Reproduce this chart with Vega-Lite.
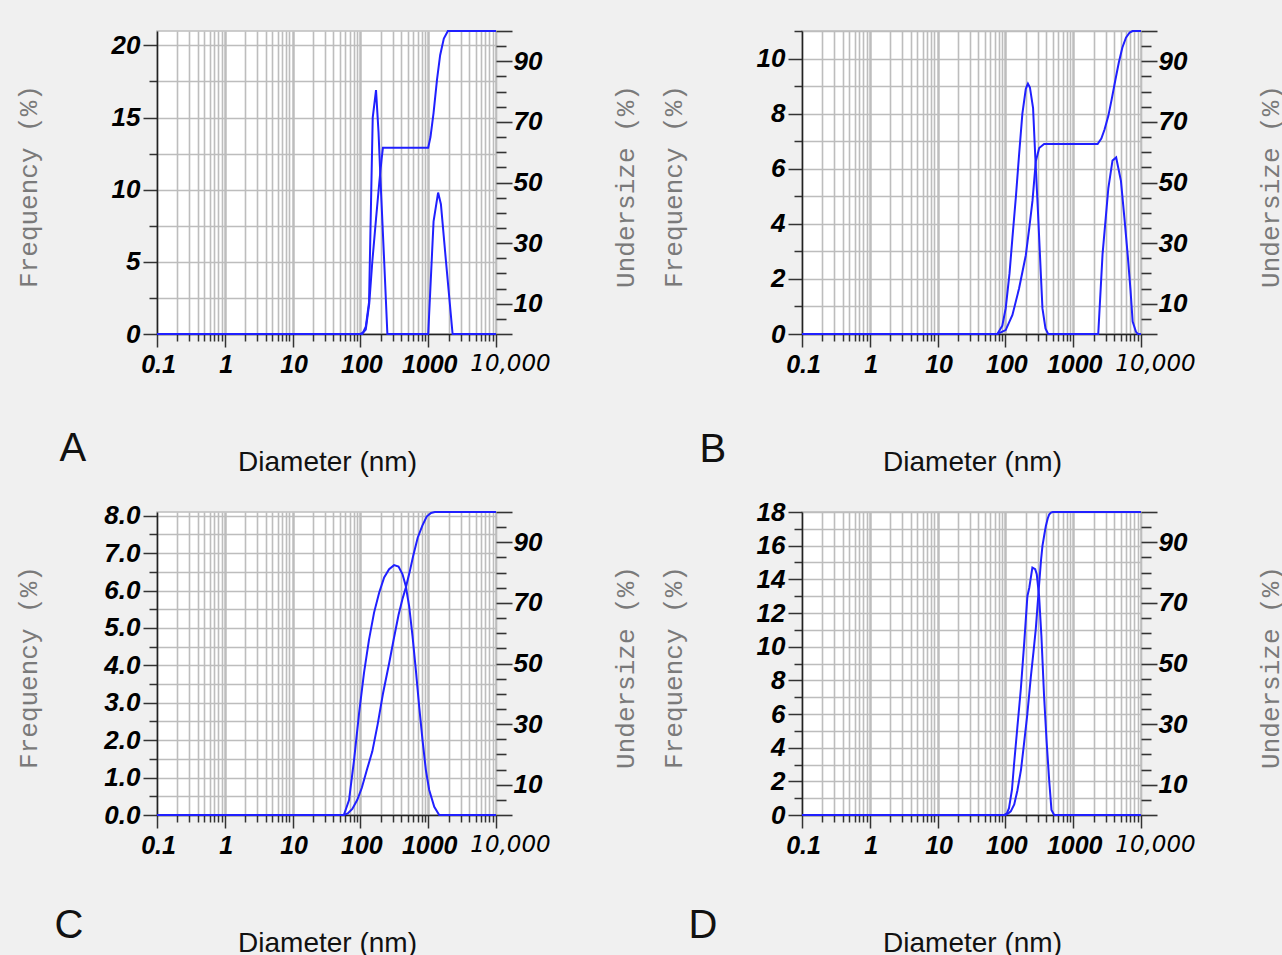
{
  "$schema": "https://vega.github.io/schema/vega-lite/v6.json",
  "background": "#f0f0f0",
  "padding": {"left": 14, "top": 17, "right": 0, "bottom": 10},
  "columns": 2,
  "spacing": {"row": 178, "column": 306},
  "bounds": "flush",
  "data": {"values": [
    {"panel":"A","series":"Frequency","diameter":0.1,"value":0},
    {"panel":"A","series":"Frequency","diameter":100,"value":0},
    {"panel":"A","series":"Frequency","diameter":107,"value":0},
    {"panel":"A","series":"Frequency","diameter":120,"value":0.5},
    {"panel":"A","series":"Frequency","diameter":134,"value":2.2},
    {"panel":"A","series":"Frequency","diameter":152,"value":15.0},
    {"panel":"A","series":"Frequency","diameter":170,"value":16.9},
    {"panel":"A","series":"Frequency","diameter":185,"value":14.0},
    {"panel":"A","series":"Frequency","diameter":200,"value":10.2},
    {"panel":"A","series":"Frequency","diameter":225,"value":4.9},
    {"panel":"A","series":"Frequency","diameter":250,"value":0},
    {"panel":"A","series":"Frequency","diameter":1000,"value":0},
    {"panel":"A","series":"Frequency","diameter":1200,"value":7.8},
    {"panel":"A","series":"Frequency","diameter":1400,"value":9.8},
    {"panel":"A","series":"Frequency","diameter":1540,"value":9.0},
    {"panel":"A","series":"Frequency","diameter":1800,"value":5.4},
    {"panel":"A","series":"Frequency","diameter":2290,"value":0},
    {"panel":"A","series":"Frequency","diameter":10000,"value":0},
    {"panel":"A","series":"Undersize","diameter":0.1,"value":0},
    {"panel":"A","series":"Undersize","diameter":100,"value":0},
    {"panel":"A","series":"Undersize","diameter":110,"value":0.5},
    {"panel":"A","series":"Undersize","diameter":120,"value":1.5},
    {"panel":"A","series":"Undersize","diameter":135,"value":10},
    {"panel":"A","series":"Undersize","diameter":150,"value":24},
    {"panel":"A","series":"Undersize","diameter":170,"value":38},
    {"panel":"A","series":"Undersize","diameter":190,"value":50},
    {"panel":"A","series":"Undersize","diameter":205,"value":57.5},
    {"panel":"A","series":"Undersize","diameter":215,"value":61.5},
    {"panel":"A","series":"Undersize","diameter":1000,"value":61.5},
    {"panel":"A","series":"Undersize","diameter":1080,"value":65},
    {"panel":"A","series":"Undersize","diameter":1200,"value":73},
    {"panel":"A","series":"Undersize","diameter":1350,"value":84},
    {"panel":"A","series":"Undersize","diameter":1500,"value":92},
    {"panel":"A","series":"Undersize","diameter":1700,"value":97.5},
    {"panel":"A","series":"Undersize","diameter":1950,"value":100},
    {"panel":"A","series":"Undersize","diameter":10000,"value":100},
    {"panel":"B","series":"Frequency","diameter":0.1,"value":0},
    {"panel":"B","series":"Frequency","diameter":76,"value":0},
    {"panel":"B","series":"Frequency","diameter":90,"value":0.3},
    {"panel":"B","series":"Frequency","diameter":101,"value":0.93},
    {"panel":"B","series":"Frequency","diameter":115,"value":2.2},
    {"panel":"B","series":"Frequency","diameter":127,"value":3.5},
    {"panel":"B","series":"Frequency","diameter":143,"value":5.0},
    {"panel":"B","series":"Frequency","diameter":159,"value":6.5},
    {"panel":"B","series":"Frequency","diameter":178,"value":8.0},
    {"panel":"B","series":"Frequency","diameter":200,"value":8.9},
    {"panel":"B","series":"Frequency","diameter":215,"value":9.09},
    {"panel":"B","series":"Frequency","diameter":230,"value":8.95},
    {"panel":"B","series":"Frequency","diameter":256,"value":8.2},
    {"panel":"B","series":"Frequency","diameter":275,"value":6.5},
    {"panel":"B","series":"Frequency","diameter":300,"value":4.6},
    {"panel":"B","series":"Frequency","diameter":330,"value":2.4},
    {"panel":"B","series":"Frequency","diameter":352,"value":0.93},
    {"panel":"B","series":"Frequency","diameter":390,"value":0.2},
    {"panel":"B","series":"Frequency","diameter":427,"value":0},
    {"panel":"B","series":"Frequency","diameter":2340,"value":0},
    {"panel":"B","series":"Frequency","diameter":2710,"value":2.9},
    {"panel":"B","series":"Frequency","diameter":3300,"value":5.3},
    {"panel":"B","series":"Frequency","diameter":3800,"value":6.3},
    {"panel":"B","series":"Frequency","diameter":4300,"value":6.41},
    {"panel":"B","series":"Frequency","diameter":5060,"value":5.56},
    {"panel":"B","series":"Frequency","diameter":5700,"value":4.2},
    {"panel":"B","series":"Frequency","diameter":6360,"value":2.88},
    {"panel":"B","series":"Frequency","diameter":7000,"value":1.6},
    {"panel":"B","series":"Frequency","diameter":7530,"value":0.45},
    {"panel":"B","series":"Frequency","diameter":8430,"value":0.08},
    {"panel":"B","series":"Frequency","diameter":9000,"value":0},
    {"panel":"B","series":"Frequency","diameter":10000,"value":0},
    {"panel":"B","series":"Undersize","diameter":0.1,"value":0},
    {"panel":"B","series":"Undersize","diameter":76,"value":0},
    {"panel":"B","series":"Undersize","diameter":101,"value":1.3},
    {"panel":"B","series":"Undersize","diameter":127,"value":6.3},
    {"panel":"B","series":"Undersize","diameter":159,"value":15},
    {"panel":"B","series":"Undersize","diameter":200,"value":26},
    {"panel":"B","series":"Undersize","diameter":225,"value":35},
    {"panel":"B","series":"Undersize","diameter":251,"value":44},
    {"panel":"B","series":"Undersize","diameter":281,"value":57},
    {"panel":"B","series":"Undersize","diameter":315,"value":61.4},
    {"panel":"B","series":"Undersize","diameter":372,"value":62.7},
    {"panel":"B","series":"Undersize","diameter":2290,"value":62.7},
    {"panel":"B","series":"Undersize","diameter":2600,"value":64.5},
    {"panel":"B","series":"Undersize","diameter":2900,"value":67.5},
    {"panel":"B","series":"Undersize","diameter":3300,"value":72},
    {"panel":"B","series":"Undersize","diameter":3700,"value":77.5},
    {"panel":"B","series":"Undersize","diameter":4200,"value":84},
    {"panel":"B","series":"Undersize","diameter":4700,"value":89.5},
    {"panel":"B","series":"Undersize","diameter":5300,"value":94.5},
    {"panel":"B","series":"Undersize","diameter":6000,"value":97.8},
    {"panel":"B","series":"Undersize","diameter":6800,"value":99.5},
    {"panel":"B","series":"Undersize","diameter":7500,"value":100},
    {"panel":"B","series":"Undersize","diameter":10000,"value":100},
    {"panel":"C","series":"Frequency","diameter":0.1,"value":0},
    {"panel":"C","series":"Frequency","diameter":57,"value":0},
    {"panel":"C","series":"Frequency","diameter":68,"value":0.4},
    {"panel":"C","series":"Frequency","diameter":80.6,"value":1.47},
    {"panel":"C","series":"Frequency","diameter":95.6,"value":2.72},
    {"panel":"C","series":"Frequency","diameter":113,"value":3.8},
    {"panel":"C","series":"Frequency","diameter":134,"value":4.69},
    {"panel":"C","series":"Frequency","diameter":159,"value":5.41},
    {"panel":"C","series":"Frequency","diameter":189,"value":5.94},
    {"panel":"C","series":"Frequency","diameter":224,"value":6.35},
    {"panel":"C","series":"Frequency","diameter":265,"value":6.57},
    {"panel":"C","series":"Frequency","diameter":314,"value":6.68},
    {"panel":"C","series":"Frequency","diameter":365,"value":6.64},
    {"panel":"C","series":"Frequency","diameter":417,"value":6.44},
    {"panel":"C","series":"Frequency","diameter":467,"value":6.12},
    {"panel":"C","series":"Frequency","diameter":524,"value":5.58},
    {"panel":"C","series":"Frequency","diameter":587,"value":4.78},
    {"panel":"C","series":"Frequency","diameter":657,"value":3.88},
    {"panel":"C","series":"Frequency","diameter":737,"value":2.89},
    {"panel":"C","series":"Frequency","diameter":825,"value":2.0},
    {"panel":"C","series":"Frequency","diameter":924,"value":1.2},
    {"panel":"C","series":"Frequency","diameter":1035,"value":0.67},
    {"panel":"C","series":"Frequency","diameter":1228,"value":0.22},
    {"panel":"C","series":"Frequency","diameter":1453,"value":0},
    {"panel":"C","series":"Frequency","diameter":10000,"value":0},
    {"panel":"C","series":"Undersize","diameter":0.1,"value":0},
    {"panel":"C","series":"Undersize","diameter":57,"value":0},
    {"panel":"C","series":"Undersize","diameter":65,"value":0.5},
    {"panel":"C","series":"Undersize","diameter":76,"value":2},
    {"panel":"C","series":"Undersize","diameter":90,"value":5},
    {"panel":"C","series":"Undersize","diameter":105,"value":9},
    {"panel":"C","series":"Undersize","diameter":125,"value":15},
    {"panel":"C","series":"Undersize","diameter":150,"value":21},
    {"panel":"C","series":"Undersize","diameter":180,"value":30},
    {"panel":"C","series":"Undersize","diameter":215,"value":40},
    {"panel":"C","series":"Undersize","diameter":265,"value":50},
    {"panel":"C","series":"Undersize","diameter":310,"value":58},
    {"panel":"C","series":"Undersize","diameter":365,"value":66},
    {"panel":"C","series":"Undersize","diameter":420,"value":71.5},
    {"panel":"C","series":"Undersize","diameter":467,"value":75},
    {"panel":"C","series":"Undersize","diameter":530,"value":80},
    {"panel":"C","series":"Undersize","diameter":600,"value":85.5},
    {"panel":"C","series":"Undersize","diameter":700,"value":91.5},
    {"panel":"C","series":"Undersize","diameter":820,"value":95.5},
    {"panel":"C","series":"Undersize","diameter":950,"value":98.5},
    {"panel":"C","series":"Undersize","diameter":1100,"value":99.7},
    {"panel":"C","series":"Undersize","diameter":1250,"value":100},
    {"panel":"C","series":"Undersize","diameter":10000,"value":100},
    {"panel":"D","series":"Frequency","diameter":0.1,"value":0},
    {"panel":"D","series":"Frequency","diameter":95,"value":0},
    {"panel":"D","series":"Frequency","diameter":105,"value":0.1},
    {"panel":"D","series":"Frequency","diameter":113,"value":0.4},
    {"panel":"D","series":"Frequency","diameter":125,"value":1.5},
    {"panel":"D","series":"Frequency","diameter":134,"value":3.0},
    {"panel":"D","series":"Frequency","diameter":150,"value":5.2},
    {"panel":"D","series":"Frequency","diameter":169,"value":7.5},
    {"panel":"D","series":"Frequency","diameter":190,"value":10.3},
    {"panel":"D","series":"Frequency","diameter":211,"value":13.0},
    {"panel":"D","series":"Frequency","diameter":225,"value":13.5},
    {"panel":"D","series":"Frequency","diameter":250,"value":14.7},
    {"panel":"D","series":"Frequency","diameter":275,"value":14.6},
    {"panel":"D","series":"Frequency","diameter":290,"value":14.3},
    {"panel":"D","series":"Frequency","diameter":314,"value":13.0},
    {"panel":"D","series":"Frequency","diameter":340,"value":10.6},
    {"panel":"D","series":"Frequency","diameter":372,"value":7.05},
    {"panel":"D","series":"Frequency","diameter":405,"value":4.4},
    {"panel":"D","series":"Frequency","diameter":442,"value":2.08},
    {"panel":"D","series":"Frequency","diameter":478,"value":0.3},
    {"panel":"D","series":"Frequency","diameter":524,"value":0},
    {"panel":"D","series":"Frequency","diameter":10000,"value":0},
    {"panel":"D","series":"Undersize","diameter":0.1,"value":0},
    {"panel":"D","series":"Undersize","diameter":100,"value":0},
    {"panel":"D","series":"Undersize","diameter":110,"value":0.5},
    {"panel":"D","series":"Undersize","diameter":120,"value":1.2},
    {"panel":"D","series":"Undersize","diameter":135,"value":3.5},
    {"panel":"D","series":"Undersize","diameter":150,"value":8},
    {"panel":"D","series":"Undersize","diameter":170,"value":15},
    {"panel":"D","series":"Undersize","diameter":188,"value":23.5},
    {"panel":"D","series":"Undersize","diameter":210,"value":33},
    {"panel":"D","series":"Undersize","diameter":237,"value":45.5},
    {"panel":"D","series":"Undersize","diameter":260,"value":54},
    {"panel":"D","series":"Undersize","diameter":281,"value":61.5},
    {"panel":"D","series":"Undersize","diameter":300,"value":70},
    {"panel":"D","series":"Undersize","diameter":314,"value":76},
    {"panel":"D","series":"Undersize","diameter":335,"value":84},
    {"panel":"D","series":"Undersize","diameter":352,"value":88.8},
    {"panel":"D","series":"Undersize","diameter":375,"value":92.5},
    {"panel":"D","series":"Undersize","diameter":395,"value":95.4},
    {"panel":"D","series":"Undersize","diameter":420,"value":97.8},
    {"panel":"D","series":"Undersize","diameter":442,"value":99.2},
    {"panel":"D","series":"Undersize","diameter":470,"value":99.8},
    {"panel":"D","series":"Undersize","diameter":500,"value":100},
    {"panel":"D","series":"Undersize","diameter":10000,"value":100}
  ]},
  "concat": [
    {
      "width": 339, "height": 303,
      "resolve": {"scale": {"y": "independent"}, "axis": {"x": "independent"}},
      "layer": [
        {
          "transform": [{"filter": "datum.panel === 'A' && datum.series === 'Frequency'"}],
          "mark": {"type": "line", "color": "#2020ff", "strokeWidth": 2},
          "encoding": {
            "x": {"field": "diameter", "type": "quantitative", "scale": {"type": "log", "domain": [0.1, 10000], "nice": false},
              "axis": {"orient": "bottom", "values": [0.1,0.2,0.3,0.4,0.5,0.6,0.7,0.8,0.9,1,2,3,4,5,6,7,8,9,10,20,30,40,50,60,70,80,90,100,200,300,400,500,600,700,800,900,1000,2000,3000,4000,5000,6000,7000,8000,9000,10000],
                "labelExpr": "datum.value === 10000 ? '10,000' : datum.value === 0.1 ? '0.1' : indexof([1,10,100,1000], datum.value) >= 0 ? format(datum.value, 'd') : ''",
                "tickSize": {"condition": {"test": "indexof([0.1,1,10,100,1000,10000], datum.value) >= 0", "value": 13}, "value": 7},
                "gridWidth": {"condition": {"test": "indexof([1,10,100,1000], datum.value) >= 0", "value": 2.5}, "value": 1.6},
                "labelFont": {"condition": {"test": "datum.value === 10000", "value": "DejaVu Sans"}, "value": "Liberation Sans"},
                "labelFontWeight": {"condition": {"test": "datum.value === 10000", "value": "normal"}, "value": "bold"},
                "labelFontSize": {"condition": {"test": "datum.value === 10000", "value": 23}, "value": 25},
                "labelOffset": {"condition": {"test": "datum.value === 10000", "value": 14}, "value": 1},
                "labelPadding": 5, "tickWidth": 1.5,
                "title": "Diameter (nm)", "titleFont": "Liberation Sans", "titleFontSize": 28, "titleColor": "#111111", "titleAngle": 0, "titleX": 170, "titleY": 136, "titleAlign": "center", "titleBaseline": "alphabetic"}},
            "y": {"field": "value", "type": "quantitative", "scale": {"domain": [0, 21], "nice": false, "zero": false},
              "axis": {"orient": "left", "values": [0,2.5,5,7.5,10,12.5,15,17.5,20],
                "labelExpr": "datum.value % 5 === 0 ? format(datum.value, 'd') : ''",
                "tickSize": {"condition": {"test": "datum.value % 5 === 0", "value": 14}, "value": 8},
                "labelPadding": 3, "tickWidth": 1.5,
                "title": "Frequency (%)", "titleAngle": 270, "titleX": -121, "titleY": 155, "titleAlign": "center", "titleBaseline": "alphabetic"}}
          }
        },
        {
          "transform": [{"filter": "datum.panel === 'A' && datum.series === 'Undersize'"}],
          "mark": {"type": "line", "color": "#2020ff", "strokeWidth": 2},
          "encoding": {
            "x": {"field": "diameter", "type": "quantitative", "scale": {"type": "log", "domain": [0.1, 10000], "nice": false},
              "axis": {"orient": "bottom", "domain": false, "ticks": false, "labels": false, "grid": false, "title": "A", "titleFont": "Liberation Sans", "titleFontSize": 40, "titleColor": "#111111", "titleAngle": 0, "titleX": -98, "titleY": 126, "titleAlign": "left", "titleBaseline": "alphabetic"}},
            "y": {"field": "value", "type": "quantitative", "scale": {"domain": [0, 100], "nice": false},
              "axis": {"orient": "right", "values": [0,5,10,15,20,25,30,35,40,45,50,55,60,65,70,75,80,85,90,95,100],
                "labelExpr": "indexof([10,30,50,70,90], datum.value) >= 0 ? format(datum.value, 'd') : ''",
                "tickSize": {"condition": {"test": "indexof([0,10,30,50,70,90,100], datum.value) >= 0", "value": 16}, "value": 10},
                "labelPadding": 1, "tickWidth": 1.6, "grid": false, "domain": false,
                "title": "Undersize (%)", "titleAngle": 270, "titleX": 137, "titleY": 155, "titleAlign": "center", "titleBaseline": "alphabetic"}}
          }
        }
      ]
    },
    {
      "width": 339, "height": 303,
      "resolve": {"scale": {"y": "independent"}, "axis": {"x": "independent"}},
      "layer": [
        {
          "transform": [{"filter": "datum.panel === 'B' && datum.series === 'Frequency'"}],
          "mark": {"type": "line", "color": "#2020ff", "strokeWidth": 2},
          "encoding": {
            "x": {"field": "diameter", "type": "quantitative", "scale": {"type": "log", "domain": [0.1, 10000], "nice": false},
              "axis": {"orient": "bottom", "values": [0.1,0.2,0.3,0.4,0.5,0.6,0.7,0.8,0.9,1,2,3,4,5,6,7,8,9,10,20,30,40,50,60,70,80,90,100,200,300,400,500,600,700,800,900,1000,2000,3000,4000,5000,6000,7000,8000,9000,10000],
                "labelExpr": "datum.value === 10000 ? '10,000' : datum.value === 0.1 ? '0.1' : indexof([1,10,100,1000], datum.value) >= 0 ? format(datum.value, 'd') : ''",
                "tickSize": {"condition": {"test": "indexof([0.1,1,10,100,1000,10000], datum.value) >= 0", "value": 13}, "value": 7},
                "gridWidth": {"condition": {"test": "indexof([1,10,100,1000], datum.value) >= 0", "value": 2.5}, "value": 1.6},
                "labelFont": {"condition": {"test": "datum.value === 10000", "value": "DejaVu Sans"}, "value": "Liberation Sans"},
                "labelFontWeight": {"condition": {"test": "datum.value === 10000", "value": "normal"}, "value": "bold"},
                "labelFontSize": {"condition": {"test": "datum.value === 10000", "value": 23}, "value": 25},
                "labelOffset": {"condition": {"test": "datum.value === 10000", "value": 14}, "value": 1},
                "labelPadding": 5, "tickWidth": 1.5,
                "title": "Diameter (nm)", "titleFont": "Liberation Sans", "titleFontSize": 28, "titleColor": "#111111", "titleAngle": 0, "titleX": 170, "titleY": 136, "titleAlign": "center", "titleBaseline": "alphabetic"}},
            "y": {"field": "value", "type": "quantitative", "scale": {"domain": [0, 11], "nice": false, "zero": false},
              "axis": {"orient": "left", "values": [0,1,2,3,4,5,6,7,8,9,10,11],
                "labelExpr": "datum.value % 2 === 0 ? format(datum.value, 'd') : ''",
                "tickSize": {"condition": {"test": "datum.value % 2 === 0", "value": 14}, "value": 8},
                "labelPadding": 3, "tickWidth": 1.5,
                "title": "Frequency (%)", "titleAngle": 270, "titleX": -121, "titleY": 155, "titleAlign": "center", "titleBaseline": "alphabetic"}}
          }
        },
        {
          "transform": [{"filter": "datum.panel === 'B' && datum.series === 'Undersize'"}],
          "mark": {"type": "line", "color": "#2020ff", "strokeWidth": 2},
          "encoding": {
            "x": {"field": "diameter", "type": "quantitative", "scale": {"type": "log", "domain": [0.1, 10000], "nice": false},
              "axis": {"orient": "bottom", "domain": false, "ticks": false, "labels": false, "grid": false, "title": "B", "titleFont": "Liberation Sans", "titleFontSize": 40, "titleColor": "#111111", "titleAngle": 0, "titleX": -103, "titleY": 127, "titleAlign": "left", "titleBaseline": "alphabetic"}},
            "y": {"field": "value", "type": "quantitative", "scale": {"domain": [0, 100], "nice": false},
              "axis": {"orient": "right", "values": [0,5,10,15,20,25,30,35,40,45,50,55,60,65,70,75,80,85,90,95,100],
                "labelExpr": "indexof([10,30,50,70,90], datum.value) >= 0 ? format(datum.value, 'd') : ''",
                "tickSize": {"condition": {"test": "indexof([0,10,30,50,70,90,100], datum.value) >= 0", "value": 16}, "value": 10},
                "labelPadding": 1, "tickWidth": 1.6, "grid": false, "domain": false,
                "title": "Undersize (%)", "titleAngle": 270, "titleX": 137, "titleY": 155, "titleAlign": "center", "titleBaseline": "alphabetic"}}
          }
        }
      ]
    },
    {
      "width": 339, "height": 303,
      "resolve": {"scale": {"y": "independent"}, "axis": {"x": "independent"}},
      "layer": [
        {
          "transform": [{"filter": "datum.panel === 'C' && datum.series === 'Frequency'"}],
          "mark": {"type": "line", "color": "#2020ff", "strokeWidth": 2},
          "encoding": {
            "x": {"field": "diameter", "type": "quantitative", "scale": {"type": "log", "domain": [0.1, 10000], "nice": false},
              "axis": {"orient": "bottom", "values": [0.1,0.2,0.3,0.4,0.5,0.6,0.7,0.8,0.9,1,2,3,4,5,6,7,8,9,10,20,30,40,50,60,70,80,90,100,200,300,400,500,600,700,800,900,1000,2000,3000,4000,5000,6000,7000,8000,9000,10000],
                "labelExpr": "datum.value === 10000 ? '10,000' : datum.value === 0.1 ? '0.1' : indexof([1,10,100,1000], datum.value) >= 0 ? format(datum.value, 'd') : ''",
                "tickSize": {"condition": {"test": "indexof([0.1,1,10,100,1000,10000], datum.value) >= 0", "value": 13}, "value": 7},
                "gridWidth": {"condition": {"test": "indexof([1,10,100,1000], datum.value) >= 0", "value": 2.5}, "value": 1.6},
                "labelFont": {"condition": {"test": "datum.value === 10000", "value": "DejaVu Sans"}, "value": "Liberation Sans"},
                "labelFontWeight": {"condition": {"test": "datum.value === 10000", "value": "normal"}, "value": "bold"},
                "labelFontSize": {"condition": {"test": "datum.value === 10000", "value": 23}, "value": 25},
                "labelOffset": {"condition": {"test": "datum.value === 10000", "value": 14}, "value": 1},
                "labelPadding": 5, "tickWidth": 1.5,
                "title": "Diameter (nm)", "titleFont": "Liberation Sans", "titleFontSize": 28, "titleColor": "#111111", "titleAngle": 0, "titleX": 170, "titleY": 136, "titleAlign": "center", "titleBaseline": "alphabetic"}},
            "y": {"field": "value", "type": "quantitative", "scale": {"domain": [0, 8.1], "nice": false, "zero": false},
              "axis": {"orient": "left", "values": [0,0.5,1,1.5,2,2.5,3,3.5,4,4.5,5,5.5,6,6.5,7,7.5,8],
                "labelExpr": "datum.value % 1 === 0 ? format(datum.value, '.1f') : ''",
                "tickSize": {"condition": {"test": "datum.value % 1 === 0", "value": 14}, "value": 8},
                "labelPadding": 3, "tickWidth": 1.5,
                "title": "Frequency (%)", "titleAngle": 270, "titleX": -121, "titleY": 155, "titleAlign": "center", "titleBaseline": "alphabetic"}}
          }
        },
        {
          "transform": [{"filter": "datum.panel === 'C' && datum.series === 'Undersize'"}],
          "mark": {"type": "line", "color": "#2020ff", "strokeWidth": 2},
          "encoding": {
            "x": {"field": "diameter", "type": "quantitative", "scale": {"type": "log", "domain": [0.1, 10000], "nice": false},
              "axis": {"orient": "bottom", "domain": false, "ticks": false, "labels": false, "grid": false, "title": "C", "titleFont": "Liberation Sans", "titleFontSize": 40, "titleColor": "#111111", "titleAngle": 0, "titleX": -103, "titleY": 122, "titleAlign": "left", "titleBaseline": "alphabetic"}},
            "y": {"field": "value", "type": "quantitative", "scale": {"domain": [0, 100], "nice": false},
              "axis": {"orient": "right", "values": [0,5,10,15,20,25,30,35,40,45,50,55,60,65,70,75,80,85,90,95,100],
                "labelExpr": "indexof([10,30,50,70,90], datum.value) >= 0 ? format(datum.value, 'd') : ''",
                "tickSize": {"condition": {"test": "indexof([0,10,30,50,70,90,100], datum.value) >= 0", "value": 16}, "value": 10},
                "labelPadding": 1, "tickWidth": 1.6, "grid": false, "domain": false,
                "title": "Undersize (%)", "titleAngle": 270, "titleX": 137, "titleY": 155, "titleAlign": "center", "titleBaseline": "alphabetic"}}
          }
        }
      ]
    },
    {
      "width": 339, "height": 303,
      "resolve": {"scale": {"y": "independent"}, "axis": {"x": "independent"}},
      "layer": [
        {
          "transform": [{"filter": "datum.panel === 'D' && datum.series === 'Frequency'"}],
          "mark": {"type": "line", "color": "#2020ff", "strokeWidth": 2},
          "encoding": {
            "x": {"field": "diameter", "type": "quantitative", "scale": {"type": "log", "domain": [0.1, 10000], "nice": false},
              "axis": {"orient": "bottom", "values": [0.1,0.2,0.3,0.4,0.5,0.6,0.7,0.8,0.9,1,2,3,4,5,6,7,8,9,10,20,30,40,50,60,70,80,90,100,200,300,400,500,600,700,800,900,1000,2000,3000,4000,5000,6000,7000,8000,9000,10000],
                "labelExpr": "datum.value === 10000 ? '10,000' : datum.value === 0.1 ? '0.1' : indexof([1,10,100,1000], datum.value) >= 0 ? format(datum.value, 'd') : ''",
                "tickSize": {"condition": {"test": "indexof([0.1,1,10,100,1000,10000], datum.value) >= 0", "value": 13}, "value": 7},
                "gridWidth": {"condition": {"test": "indexof([1,10,100,1000], datum.value) >= 0", "value": 2.5}, "value": 1.6},
                "labelFont": {"condition": {"test": "datum.value === 10000", "value": "DejaVu Sans"}, "value": "Liberation Sans"},
                "labelFontWeight": {"condition": {"test": "datum.value === 10000", "value": "normal"}, "value": "bold"},
                "labelFontSize": {"condition": {"test": "datum.value === 10000", "value": 23}, "value": 25},
                "labelOffset": {"condition": {"test": "datum.value === 10000", "value": 14}, "value": 1},
                "labelPadding": 5, "tickWidth": 1.5,
                "title": "Diameter (nm)", "titleFont": "Liberation Sans", "titleFontSize": 28, "titleColor": "#111111", "titleAngle": 0, "titleX": 170, "titleY": 136, "titleAlign": "center", "titleBaseline": "alphabetic"}},
            "y": {"field": "value", "type": "quantitative", "scale": {"domain": [0, 18], "nice": false, "zero": false},
              "axis": {"orient": "left", "values": [0,1,2,3,4,5,6,7,8,9,10,11,12,13,14,15,16,17,18],
                "labelExpr": "datum.value % 2 === 0 ? format(datum.value, 'd') : ''",
                "tickSize": {"condition": {"test": "datum.value % 2 === 0", "value": 14}, "value": 8},
                "labelPadding": 3, "tickWidth": 1.5,
                "title": "Frequency (%)", "titleAngle": 270, "titleX": -121, "titleY": 155, "titleAlign": "center", "titleBaseline": "alphabetic"}}
          }
        },
        {
          "transform": [{"filter": "datum.panel === 'D' && datum.series === 'Undersize'"}],
          "mark": {"type": "line", "color": "#2020ff", "strokeWidth": 2},
          "encoding": {
            "x": {"field": "diameter", "type": "quantitative", "scale": {"type": "log", "domain": [0.1, 10000], "nice": false},
              "axis": {"orient": "bottom", "domain": false, "ticks": false, "labels": false, "grid": false, "title": "D", "titleFont": "Liberation Sans", "titleFontSize": 40, "titleColor": "#111111", "titleAngle": 0, "titleX": -114, "titleY": 122, "titleAlign": "left", "titleBaseline": "alphabetic"}},
            "y": {"field": "value", "type": "quantitative", "scale": {"domain": [0, 100], "nice": false},
              "axis": {"orient": "right", "values": [0,5,10,15,20,25,30,35,40,45,50,55,60,65,70,75,80,85,90,95,100],
                "labelExpr": "indexof([10,30,50,70,90], datum.value) >= 0 ? format(datum.value, 'd') : ''",
                "tickSize": {"condition": {"test": "indexof([0,10,30,50,70,90,100], datum.value) >= 0", "value": 16}, "value": 10},
                "labelPadding": 1, "tickWidth": 1.6, "grid": false, "domain": false,
                "title": "Undersize (%)", "titleAngle": 270, "titleX": 137, "titleY": 155, "titleAlign": "center", "titleBaseline": "alphabetic"}}
          }
        }
      ]
    }
  ],
  "config": {
    "view": {"stroke": "#bdbdbd", "strokeWidth": 1.6, "fill": "#ffffff"},
    "axis": {
      "labelFont": "Liberation Sans", "labelFontSize": 26, "labelFontWeight": "bold", "labelFontStyle": "italic", "labelColor": "#000000",
      "tickColor": "#333333", "domainColor": "#222222", "domainWidth": 1.5,
      "gridColor": "#bdbdbd", "gridWidth": 1.6,
      "labelOverlap": false, "labelBound": false, "labelFlush": false,
      "titleFont": "Liberation Mono", "titleFontSize": 26, "titleFontWeight": "normal", "titleColor": "#7a7a7a"
    }
  }
}
